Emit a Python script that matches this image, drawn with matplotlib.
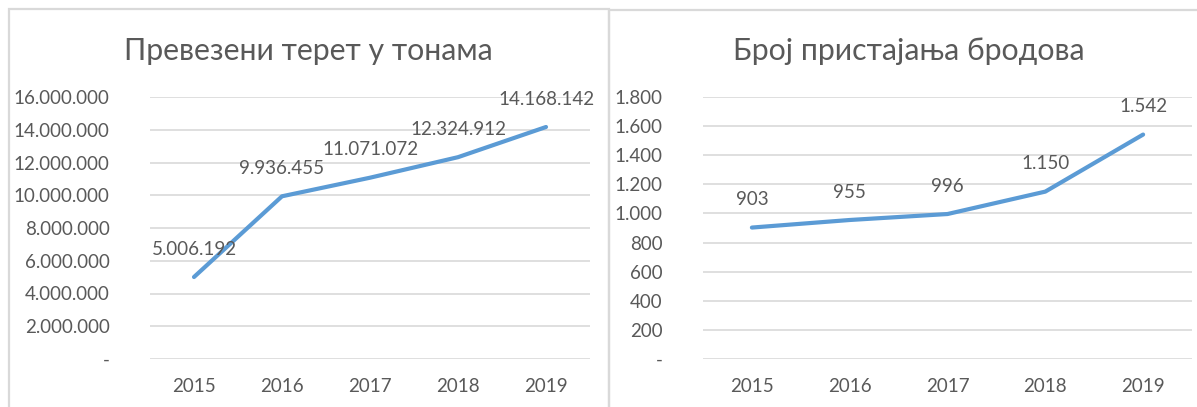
import matplotlib
matplotlib.use("Agg")
import matplotlib.pyplot as plt
from matplotlib.patches import Rectangle
from matplotlib.ticker import FuncFormatter, MultipleLocator

years = ["2015", "2016", "2017", "2018", "2019"]
cargo = [5006192, 9936455, 11071072, 12324912, 14168142]
dockings = [903, 955, 996, 1150, 1542]
title_left = "Превезени терет у тонама"
title_right = "Број пристајања бродова"

plt.rcParams['font.family'] = ['Lato', 'DejaVu Sans']

LINE = "#5B9BD5"
TXT = "#595959"
GRID = "#D9D9D9"
W, H = 1197, 407

fig = plt.figure(figsize=(W / 100, H / 100), dpi=100)


def fmt_num(v):
    if v == 0:
        return "-"
    return f"{int(round(v)):,}".replace(",", ".")


def px_axes(x0, x1, y0, y1):
    return fig.add_axes([x0 / W, 1 - y1 / H, (x1 - x0) / W, (y1 - y0) / H])


def draw(ax, values, ymax, step, title, title_x):
    x = list(range(len(years)))
    ax.plot(x, values, color=LINE, lw=3, solid_capstyle='round', zorder=3)
    ax.set_xlim(-0.5, len(years) - 0.5)
    ax.set_ylim(0, ymax)
    ax.yaxis.set_major_locator(MultipleLocator(step))
    ax.yaxis.set_major_formatter(FuncFormatter(lambda v, p: fmt_num(v)))
    ax.set_xticks(x)
    ax.set_xticklabels(years)
    ax.grid(axis='y', color=GRID, lw=1.2)
    ax.set_axisbelow(True)
    for s in ax.spines.values():
        s.set_visible(False)
    ax.tick_params(length=0, labelsize=13.5, colors=TXT)
    ax.tick_params(axis='y', pad=29)
    ax.tick_params(axis='x', pad=14)
    for xi, v in zip(x, values):
        ax.annotate(fmt_num(v), (xi, v), xytext=(0, 20), textcoords='offset points',
                    ha='center', va='center', fontsize=13.5, color=TXT, zorder=4)
    fig.text(title_x / W, 1 - 51 / H, title, ha='center', va='center',
             fontsize=21.8, color=TXT)


ax1 = px_axes(150, 590, 97, 359)
draw(ax1, cargo, 16000000, 2000000, title_left, 308)
ax2 = px_axes(703, 1192, 97, 359)
draw(ax2, dockings, 1800, 200, title_right, 909)

# panel borders
fig.patches.append(Rectangle((8.5 / W, -0.1), (608.5 - 8.5) / W, 1.1 - 8.5 / H,
                             transform=fig.transFigure, fill=False,
                             edgecolor=GRID, lw=1.6, figure=fig))
fig.patches.append(Rectangle((608.5 / W, -0.1), 0.6, 1.1 - 10 / H,
                             transform=fig.transFigure, fill=False,
                             edgecolor=GRID, lw=1.6, figure=fig))

fig.savefig("out.png", dpi=100)
